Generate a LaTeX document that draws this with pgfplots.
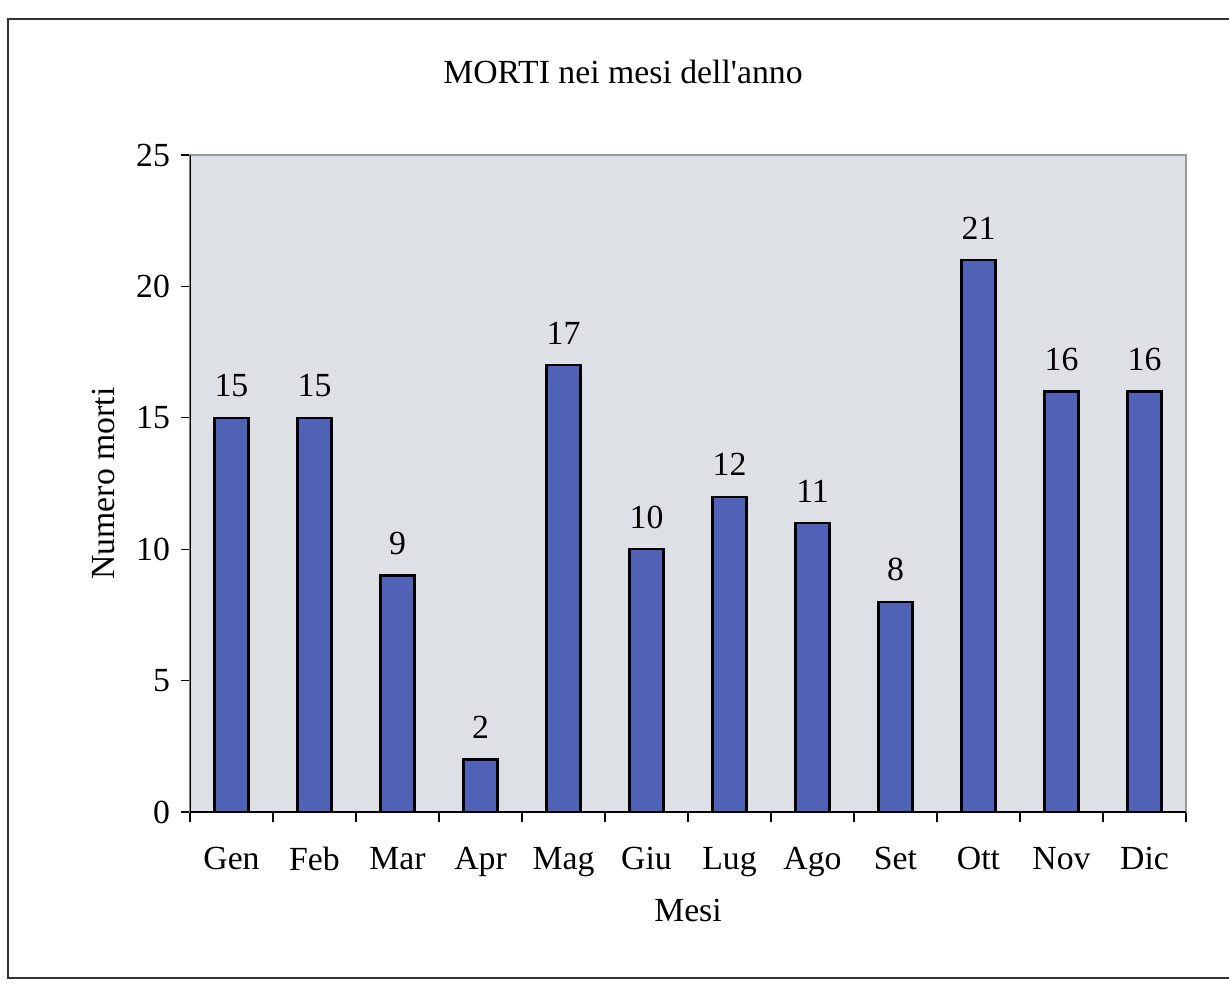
\documentclass[border=0pt]{standalone}
\usepackage{fontspec}
\setmainfont{Liberation Serif}
\usepackage{pgfplots}
\pgfplotsset{compat=1.18}
\definecolor{barblue}{RGB}{80,98,182}
\definecolor{plotbg}{RGB}{221,224,229}
\begin{document}
\begin{tikzpicture}[x=0.4pt,y=0.4pt]
\useasboundingbox (0,0) rectangle (1229,983);
\draw[line width=0.8pt,black!80] (1235,964) -- (8,964) -- (8,5) -- (1235,5);
\node[font=\fontsize{13.5}{16}\selectfont] at (623,911) {MORTI nei mesi dell\textquotesingle anno};
\begin{axis}[
  at={(190*0.4pt,171*0.4pt)}, anchor=south west,
  scale only axis, width=398.4pt, height=262.8pt,
  xmin=-0.5, xmax=11.5, ymin=0, ymax=25,
  ytick={0,5,...,25},
  xtick={0,...,11},
  xticklabels={Gen,Feb,Mar,Apr,Mag,Giu,Lug,Ago,Set,Ott,Nov,Dic},
  minor xtick={-0.5,0.5,...,11.5},
  major x tick style={draw=none},
  minor tick length=4pt, major tick length=3.5pt,
  tick align=outside, tick pos=left,
  tick style={black, line width=0.5pt},
  axis background/.style={fill=plotbg},
  axis line style={draw=gray!80, line width=0.8pt},
  ticklabel style={font=\fontsize{13.5}{16}\selectfont},
  /pgf/number format/assume math mode=true,
  xticklabel style={yshift=-7pt},
  yticklabel style={xshift=-1pt},
  xlabel={Mesi}, ylabel={Numero morti},
  label style={font=\fontsize{13.5}{16}\selectfont},
  xlabel style={yshift=-2pt},
  ylabel style={yshift=1.8pt},
  nodes near coords,
  nodes near coords style={font=\fontsize{13.5}{16}\selectfont, anchor=south, yshift=4.5pt},
]
\addplot[ybar, bar width=13.6pt, fill=barblue, draw=black, line width=0.9pt]
  coordinates {(0,15) (1,15) (2,9) (3,2) (4,17) (5,10) (6,12) (7,11) (8,8) (9,21) (10,16) (11,16)};
\draw[black, line width=0.9pt] (rel axis cs:0,1) -- (rel axis cs:0,0) -- (rel axis cs:1,0);
\end{axis}
\end{tikzpicture}
\end{document}
